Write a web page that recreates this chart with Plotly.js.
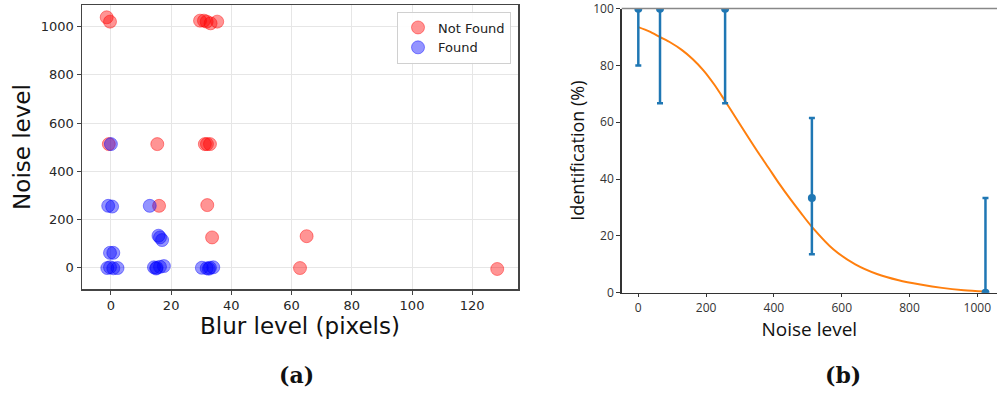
<!DOCTYPE html>
<html>
<head>
<meta charset="utf-8">
<script src="https://cdn.plot.ly/plotly-3.0.1.min.js"></script>
<style>html,body{margin:0;padding:0;background:#fff;}#chart{width:997px;height:394px;}</style>
</head>
<body>
<div id="chart"></div>
<script>
// ---- Panel (a): blur vs noise scatter ----
const notFoundBlur  = [-1.4, -0.3, 29.6, 30.9, 31.8, 33.1, 35.3, -0.7, 15.4, 31.2, 31.9, 32.9, 16.0, 32.0, 33.6, 65.0, 62.8, 128.3];
const notFoundNoise = [1039, 1021, 1025, 1025, 1021, 1014, 1021, 513, 513, 513, 513, 513, 257, 260, 126, 131, -1, -5];
const foundBlur  = [0.0, -0.9, 0.4, 12.9, 15.8, 16.3, 17.0, -0.3, 0.8, -1.2, -0.3, 0.8, 2.2, 14.3, 15.2, 16.3, 17.6, 30.2, 31.8, 32.9, 34.0, 15.0, 32.5];
const foundNoise = [513, 257, 254, 257, 133, 126, 115, 62, 62, -1, 2, -2, -1, 2, 0, 4, 7, 0, -2, 0, 2, -3, -4];

// ---- Panel (b): identification vs noise ----
const noiseLevels = [0, 64, 256, 512, 1024];
const identification = [100, 100, 100, 33.3, 0];
const errPlus  = [0, 0, 0, 28.2, 33.3];
const errMinus = [20, 33.3, 33.3, 19.8, 0];
const fitNoise = [0, 32, 64, 96, 128, 160, 192, 224, 256, 288, 320, 352, 384, 416, 448, 480, 512, 576, 640, 704, 768, 832, 896, 960, 1024];
const fitIdent = [93.5, 92, 90, 88, 85.5, 82.3, 78.3, 73.3, 67.5, 61.5, 55.5, 49.6, 44, 38.3, 33, 28, 23.2, 15.2, 10, 6.6, 4.4, 2.9, 1.7, 0.9, 0.4];

const W = 997, H = 394;
const px = v => v / W, py = v => 1 - v / H;
const topB = 8.6;

const traces = [
  {x: notFoundBlur, y: notFoundNoise, type: 'scatter', mode: 'markers', name: 'Not Found',
   xaxis: 'x', yaxis: 'y',
   marker: {size: 13, color: 'rgba(255,0,0,0.42)', line: {width: 1, color: 'rgba(255,0,0,0.42)'}}},
  {x: foundBlur, y: foundNoise, type: 'scatter', mode: 'markers', name: 'Found',
   xaxis: 'x', yaxis: 'y',
   marker: {size: 13, color: 'rgba(0,0,255,0.42)', line: {width: 1, color: 'rgba(0,0,255,0.42)'}}},
  {x: fitNoise, y: fitIdent, type: 'scatter', mode: 'lines', showlegend: false,
   xaxis: 'x2', yaxis: 'y2', line: {color: '#ff7f0e', width: 2, shape: 'spline', smoothing: 0.8}},
  {x: noiseLevels, y: identification, type: 'scatter', mode: 'markers', showlegend: false,
   xaxis: 'x2', yaxis: 'y2', cliponaxis: true,
   marker: {size: 8, color: '#1f77b4'},
   error_y: {type: 'data', symmetric: false, array: errPlus, arrayminus: errMinus,
             color: '#1f77b4', thickness: 2.5, width: 3}}
];

const tickFontA = {family: 'DejaVu Sans', size: 13, color: '#262626'};
const tickFontB = {family: 'Open Sans', size: 12, color: '#333'};

const layout = {
  width: W, height: H,
  margin: {l: 0, r: 0, t: 0, b: 0},
  paper_bgcolor: '#fff', plot_bgcolor: '#fff',
  showlegend: true,
  legend: {x: px(397), y: py(11.5), xanchor: 'left', yanchor: 'top',
           bgcolor: 'rgba(255,255,255,0.9)', bordercolor: '#d0d0d0', borderwidth: 1,
           font: {family: 'DejaVu Sans', size: 13, color: '#222'}, tracegroupgap: 0,
           itemwidth: 30},
  xaxis: {domain: [px(82), px(518)], range: [-9.6, 135.2], anchor: 'y',
          tickvals: [0, 20, 40, 60, 80, 100, 120],
          showgrid: true, gridcolor: '#e6e6e6', gridwidth: 1, zeroline: false,
          showline: true, linecolor: '#444', linewidth: 1.5, mirror: true,
          ticks: 'outside', ticklen: 4, tickcolor: '#444', tickfont: tickFontA,
          title: {text: 'Blur level (pixels)', font: {family: 'DejaVu Sans', size: 23, color: '#111'}, standoff: 5}},
  yaxis: {domain: [py(289), py(5)], range: [-88, 1090], anchor: 'x',
          tickvals: [0, 200, 400, 600, 800, 1000],
          showgrid: true, gridcolor: '#e6e6e6', gridwidth: 1, zeroline: false,
          showline: true, linecolor: '#444', linewidth: 1.5, mirror: true,
          ticks: 'outside', ticklen: 4, tickcolor: '#444', tickfont: tickFontA,
          title: {text: 'Noise level', font: {family: 'DejaVu Sans', size: 23, color: '#111'}, standoff: 4}},
  xaxis2: {domain: [px(621.7), 1], range: [-49, 1058], anchor: 'y2',
           tickvals: [0, 200, 400, 600, 800, 1000],
           showgrid: false, zeroline: false,
           showline: true, linecolor: '#333', linewidth: 1.5,
           ticks: 'outside', ticklen: 3, tickcolor: '#333', tickfont: tickFontB,
           title: {text: 'Noise level', font: {family: 'Open Sans', size: 19, color: '#111'}, standoff: 0}},
  yaxis2: {domain: [py(292.7), py(topB)], range: [0, 100.02], anchor: 'x2',
           tickvals: [0, 20, 40, 60, 80, 100], ticklabeloverflow: 'allow',
           showgrid: false, zeroline: false,
           showline: true, linecolor: '#333', linewidth: 1.5,
           ticks: 'outside', ticklen: 4, tickcolor: '#333', tickfont: tickFontB,
           title: {text: 'Identification (%)', font: {family: 'Open Sans', size: 18, color: '#111'}, standoff: 4}},
  shapes: [
    {type: 'line', xref: 'paper', yref: 'paper', x0: px(621.7), x1: 1, y0: py(topB), y1: py(topB),
     line: {color: '#888', width: 1.5}}
  ],
  annotations: [
    {text: '<b>(a)</b>', xref: 'paper', yref: 'paper', x: px(296), y: py(375), showarrow: false,
     xanchor: 'center', yanchor: 'middle', font: {family: 'DejaVu Serif', size: 22, color: '#111'}},
    {text: '<b>(b)</b>', xref: 'paper', yref: 'paper', x: px(843), y: py(375), showarrow: false,
     xanchor: 'center', yanchor: 'middle', font: {family: 'DejaVu Serif', size: 22, color: '#111'}}
  ]
};

Plotly.newPlot('chart', traces, layout, {displayModeBar: false, staticPlot: true});
</script>
</body>
</html>
